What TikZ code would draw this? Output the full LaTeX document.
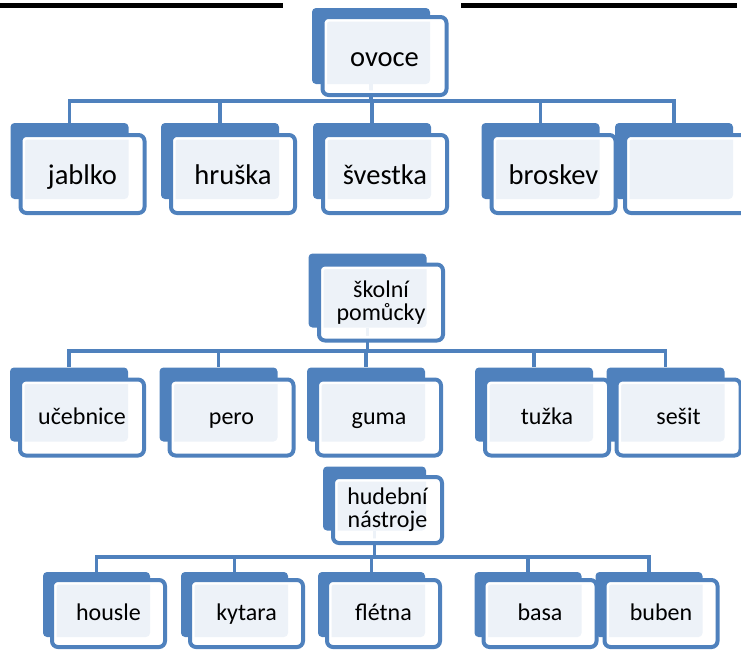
\documentclass[tikz,border=0pt]{standalone}
\usepackage{fontspec}
\setmainfont{Carlito}
\definecolor{boxblue}{HTML}{4F81BD}

\begin{document}
\begin{tikzpicture}[x=0.75pt,y=-0.75pt,
        backbox/.style={fill=boxblue, rounded corners=3pt, inner sep=0pt},
        frontbox/.style={draw=boxblue, line width=3pt, fill=white, fill opacity=0.9, text opacity=1,
            rounded corners=4.5pt, inner sep=0pt, align=center,
            path picture={\draw[white, line width=7pt, rounded corners=4.5pt]
                (path picture bounding box.south west) rectangle (path picture bounding box.north east);}},
        conn/.style={draw=boxblue, line width=2.8pt},
        big/.style={font=\fontsize{21.4pt}{24pt}\selectfont, text height=20pt, text depth=4.5pt},
        small/.style={font=\fontsize{18pt}{17.5pt}\selectfont},
        smallone/.style={small, text height=14.5pt, text depth=3.6pt},
        sz1/.style={minimum width=93pt, minimum height=58.5pt},
        bk1/.style={minimum width=88.5pt, minimum height=57pt},
        sz2/.style={minimum width=93pt, minimum height=57pt},
        bk2/.style={minimum width=88.5pt, minimum height=55.5pt},
        sz3/.style={minimum width=84.75pt, minimum height=50.25pt},
        bk3/.style={minimum width=80.25pt, minimum height=48.75pt},
        sz3top/.style={minimum width=81.75pt, minimum height=49.5pt},
        bk3top/.style={minimum width=77.25pt, minimum height=48pt}]
        \useasboundingbox (0,0) rectangle (741,650);

        % cut-off heading underline
        \fill[black] (0,2.5) rectangle (283,7.5);
        \fill[black] (461,2.5) rectangle (737,7.5);

        \coordinate (bar1) at (0,101); % horizontal bars
        \coordinate (bar2) at (0,351);
        \coordinate (bar3) at (0,557);

        % back boxes
        \node[backbox, bk1] (ovoce-b) at (371,46) {};
        \foreach \n/\x in {jablko/82.5, hruska/233, svestka/385, broskev/553.5, prazdny/687}
            \node[backbox, bk1] (\n-b) at (\x-13,161) {};
        \node[backbox, bk2] (skolni-b) at (367.5,290.5) {};
        \foreach \n/\x in {ucebnice/82, pero/231.5, guma/379, tuzka/547, sesit/678.5}
            \node[backbox, bk2] (\n-b) at (\x-13,404.5) {};
        \node[backbox, bk3top] (hudebni-b) at (374.5,498.5) {};
        \foreach \n/\x in {housle/108.5, kytara/246.5, fletna/383.5, basa/540, buben/661}
            \node[backbox, bk3] (\n-b) at (\x-12,604.5) {};

        % connectors
        \foreach \n in {jablko, hruska, svestka, broskev, prazdny}
            \draw[conn] (ovoce-b.south) -- (ovoce-b.south |- bar1) -| (\n-b.north);
        \foreach \n in {ucebnice, pero, guma, tuzka, sesit}
            \draw[conn] (skolni-b.south) -- (skolni-b.south |- bar2) -| (\n-b.north);
        \foreach \n in {housle, kytara, fletna, basa, buben}
            \draw[conn] (hudebni-b.south) -- (hudebni-b.south |- bar3) -| (\n-b.north);

        % front boxes
        \node[frontbox, big, sz1] (ovoce) at (384.5,56) {ovoce};
        \foreach \n/\x/\t in {jablko/82.5/jablko, hruska/233/hruška, svestka/385/švestka,
                broskev/553.5/broskev, prazdny/687/{}}
            \node[frontbox, big, sz1] (\n) at (\x,174) {\t};
        \node[frontbox, small, sz2] (skolni) at (381,302.5) {školní\\pomůcky};
        \foreach \n/\x/\t in {ucebnice/82/učebnice, pero/231.5/pero, guma/379/guma,
                tuzka/547/tužka, sesit/678.5/sešit}
            \node[frontbox, smallone, sz2] (\n) at (\x,417.5) {\t};
        \node[frontbox, small, sz3top] (hudebni) at (387.5,510) {hudební\\nástroje};
        \foreach \n/\x/\t in {housle/108.5/housle, kytara/246.5/kytara, fletna/383.5/flétna,
                basa/540/basa, buben/661/buben}
            \node[frontbox, smallone, sz3] (\n) at (\x,613.5) {\t};
    \end{tikzpicture}
\end{document}
